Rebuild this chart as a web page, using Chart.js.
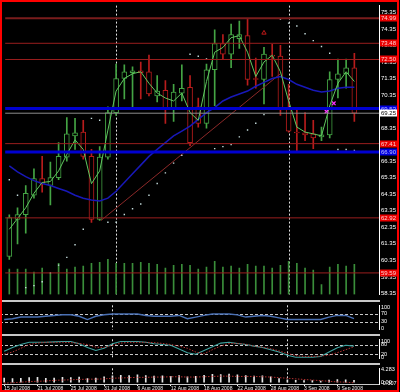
<!DOCTYPE html>
<html><head><meta charset="utf-8">
<script src="https://cdn.jsdelivr.net/npm/chart.js@4.4.0/dist/chart.umd.min.js"></script>
<style>
html,body{margin:0;padding:0;background:#000;}
#wrap{position:relative;width:400px;height:392px;background:#000;overflow:hidden;}
#wrap canvas{position:absolute;left:0;}
.sep{position:absolute;left:0;width:380px;height:2px;background:#c8c8c8;}
#frame{position:absolute;left:0;top:0;width:399px;height:392px;box-sizing:border-box;border:2px solid #ff0000;pointer-events:none;}
</style></head><body>
<div id="wrap">
<canvas id="cMain" width="398" height="300" style="top:0px"></canvas>
<canvas id="cRsi" width="398" height="35" style="top:300px"></canvas>
<canvas id="cSto" width="398" height="30" style="top:334px"></canvas>
<canvas id="cOsc" width="398" height="28" style="top:363px"></canvas>
<div class="sep" style="top:300px"></div>
<div class="sep" style="top:334px"></div>
<div class="sep" style="top:363px"></div>
<div id="frame"></div>
</div>
<script>
// ---------------- DATA ----------------
const opens  = [60.59,62.82,63.12,64.29,65.29,64.88,65.35,66.59,67.88,68.11,66.64,62.82,66.59,69.29,71.35,71.70,71.82,71.76,70.29,70.64,69.53,70.47,70.82,69.64,68.64,71.88,73.47,72.82,73.76,73.94,71.35,71.29,72.76,72.70,69.59,68.11,68.06,68.00,67.82,67.94,71.29,71.64,72.00];
const highs  = [63.10,63.53,64.88,65.88,66.64,66.29,67.47,68.99,68.94,68.82,67.06,67.23,69.64,72.23,72.17,72.06,72.35,72.76,71.53,71.23,71.00,72.17,71.53,70.17,72.23,74.29,74.00,74.64,74.82,74.94,72.59,73.23,73.41,73.35,71.00,69.59,69.29,68.82,68.41,71.76,72.53,72.53,72.88];
const lows   = [60.41,61.35,62.00,64.11,64.47,63.70,65.23,66.35,67.06,66.47,62.65,62.76,66.47,69.11,70.11,69.64,70.11,70.29,69.94,68.64,68.76,69.99,67.29,68.41,68.35,69.70,72.53,72.00,73.17,70.94,70.76,69.82,71.47,69.11,68.11,66.94,67.59,67.11,67.59,67.76,70.17,70.76,68.76];
const closes = [62.94,63.12,64.41,65.29,65.00,65.35,66.64,68.00,68.06,66.64,62.82,66.59,69.29,71.35,71.76,71.82,71.70,70.41,70.59,69.53,70.53,70.76,67.47,68.64,71.88,73.47,72.82,74.00,74.00,71.29,71.29,72.82,72.70,69.53,68.17,68.06,67.94,67.76,67.94,71.29,71.64,72.00,69.25];
const volumes = [26,26,26,23,27,22,32,26,28,29,32,33,36,32,32,32,33,32,31,27,30,31,30,26,28,34,28,29,27,31,29,29,27,30,34,32,27,25,10,28,31,29,31];
const maValues = [66.06,65.70,65.41,65.17,65.00,64.88,64.70,64.53,64.29,64.11,64.00,63.94,64.11,64.53,65.06,65.59,66.11,66.64,67.06,67.47,67.88,68.17,68.47,68.88,69.29,69.59,69.99,70.23,70.41,70.59,70.88,71.12,71.35,71.47,71.29,71.00,70.82,70.64,70.53,70.59,70.76,70.82,70.82];
const fastLine = [62.23,62.88,63.53,64.41,65.06,65.12,65.76,66.76,67.64,67.06,64.99,65.76,68.23,70.59,71.35,71.64,71.76,71.06,70.47,70.17,69.99,70.47,69.29,68.82,71.17,72.94,73.23,73.82,73.94,72.94,71.47,72.35,72.76,71.76,69.99,68.41,68.11,68.00,67.88,69.70,71.06,71.76,71.17];
const sarValues = [65.23,64.29,58.70,58.82,59.06,59.59,60.06,60.53,61.29,62.23,68.94,68.82,62.65,62.65,63.12,63.47,63.76,64.29,65.00,65.64,66.23,66.70,72.82,72.70,72.53,67.11,67.23,67.35,67.82,68.23,68.64,69.17,69.59,74.94,74.70,74.53,74.06,73.64,73.29,72.88,67.06,67.06,67.00];
const trendX = [11.16, 33.0];
const trendY = [62.76, 71.64];
const fractalX = [31], fractalY = [74.11];
const pinkX = [38.6, 39.5], pinkY = [69.35, 69.85];
const rsiValues = [42,46,54,54,54,58,62,65,65,58,42,58,65,69,69,69,69,62,58,58,58,62,46,54,62,69,69,69,65,54,58,62,58,50,42,42,42,42,42,54,62,62,46];
const stochMain = [38,62,81,95,95,95,98,100,100,86,62,43,57,86,100,100,100,95,86,81,76,52,29,19,43,67,90,95,88,81,71,62,48,33,12,0,0,0,5,33,60,76,71];
const stochSignal = [19,33,57,81,90,95,95,95,93,88,81,64,62,76,90,95,95,95,93,88,81,71,57,33,21,48,71,88,88,83,71,64,55,40,24,10,5,5,7,14,29,48,67];
const oscHist = [1.4,1.2,1.3,1.5,1.6,1.3,1.4,1.6,1.5,1.7,1.2,1.4,1.8,2.1,2.3,2.2,2.4,2.2,2.0,2.1,1.9,2.2,1.8,1.9,2.3,2.6,2.5,2.7,2.4,2.2,2.0,2.1,1.8,1.2,0.8,0.6,0.5,0.5,0.4,0.7,0.9,0.8,0.6];
const oscSignal = [-0.3,-0.2,0.0,0.2,0.3,0.4,0.6,0.7,0.8,0.9,1.0,1.0,1.1,1.3,1.4,1.5,1.6,1.6,1.7,1.7,1.8,1.8,1.7,1.7,1.8,1.9,2.0,2.0,1.9,1.9,1.9,1.8,1.7,1.5,1.3,1.1,0.9,0.7,0.5,0.3,0.1,0.0,-0.2];
const priceTicks = [58.35,59.35,60.35,61.35,62.35,63.35,64.35,65.35,66.35,67.35,68.35,69.35,70.35,71.35,72.35,73.35,74.35,75.35];
const redLevels = [74.99,73.48,72.50,67.41,62.92,59.59];
const blueLevels = [69.53,66.90];
const bidPrice = 69.25;
const rsiTicks = [0,30,70,100], rsiLevels = [30,70];
const stoTicks = [0,20,80,100], stoLevels = [20,80];
const oscTicks = [-0.307,0,4.283], oscTickText = ['-0.307','0.00','4.283'];
const separatorIdx = [13,34];
const dateTickIdx = [0,4,8,12,16,20,24,28,32,36,40];
const dateLabels = ['15 Jul 2008','21 Jul 2008','25 Jul 2008','31 Jul 2008','6 Aug 2008','12 Aug 2008','18 Aug 2008','22 Aug 2008','28 Aug 2008','3 Sep 2008','9 Sep 2008'];

// ---------------- STYLE ----------------
const FONT = 'Liberation Sans';
const upColor = '#44a444', dnColor = '#b81c1c';
const idx = opens.map((_, i) => i);
const candleCol = idx.map(i => closes[i] >= opens[i] ? upColor : dnColor);
const redWidths = [2,1,1,1,1,1];

function xAxis(display){
  return {type:'linear', min:-0.5, max:45, offset:false, display:display, grid:{display:false}};
}
function yAxis(min,max,ticks,fmt,size){
  return {type:'linear', position:'right', min:min, max:max,
    grid:{display:false, drawTicks:false},
    border:{display:true, color:'#ffffff', width:1},
    ticks:{color:'#ffffff', font:{family:FONT, size:size||6}, padding:2, autoSkip:false, callback:fmt},
    afterBuildTicks: ax => { ax.ticks = ticks.map(v => ({value:v})); },
    afterFit: ax => { ax.width = 19; }
  };
}
const vsep = {
  id:'vsep',
  beforeDatasetsDraw(chart){
    const {ctx, chartArea:a, scales:{x}} = chart;
    ctx.save(); ctx.strokeStyle='#e0e0e0'; ctx.lineWidth=1; ctx.setLineDash([2,2]);
    separatorIdx.forEach(v => { const px = Math.round(x.getPixelForValue(v)) + 0.5;
      ctx.beginPath(); ctx.moveTo(px, a.top); ctx.lineTo(px, a.bottom); ctx.stroke(); });
    ctx.restore();
  }
};
function dashLevels(levels){
  return {
    id:'dl',
    beforeDatasetsDraw(chart){
      const {ctx, chartArea:a, scales:{y}} = chart;
      ctx.save(); ctx.strokeStyle='#c8c8c8'; ctx.lineWidth=1; ctx.setLineDash([3,2]);
      levels.forEach(v => { const py = Math.round(y.getPixelForValue(v)) + 0.5;
        ctx.beginPath(); ctx.moveTo(a.left, py); ctx.lineTo(a.right, py); ctx.stroke(); });
      ctx.restore();
    }
  };
}
const levelPlugin = {
  id:'levels',
  afterDatasetsDraw(chart){
    const {ctx, chartArea:a, scales:{y}} = chart;
    ctx.save();
    const line = (v, col, w) => { const py = y.getPixelForValue(v);
      ctx.strokeStyle = col; ctx.lineWidth = w; ctx.beginPath(); ctx.moveTo(a.left, py); ctx.lineTo(a.right, py); ctx.stroke(); };
    redLevels.forEach((v,k) => line(v, k===0 ? '#7a1c1c' : '#9a1e1e', redWidths[k]));
    line(bidPrice, '#8c8c8c', 1);
    blueLevels.forEach(v => line(v, '#0000d0', 3));
    ctx.restore();
  },
  afterDraw(chart){
    const {ctx, chartArea:a, scales:{y}} = chart;
    ctx.save();
    ctx.font = '6px "' + FONT + '"'; ctx.textBaseline = 'middle'; ctx.textAlign = 'left';
    const box = (v, bg, fg) => { const py = Math.round(y.getPixelForValue(v));
      ctx.fillStyle = bg; ctx.fillRect(a.right + 1, py - 3.5, 17, 7);
      ctx.fillStyle = fg; ctx.fillText(v.toFixed(2), a.right + 2, py + 0.5); };
    redLevels.forEach(v => box(v, '#e80000', '#ffd0d0'));
    blueLevels.forEach(v => box(v, '#0000e0', '#c0c0ff'));
    box(bidPrice, '#ffffff', '#000000');
    ctx.restore();
  }
};
const common = {responsive:false, animation:false, devicePixelRatio:1, events:[],
  plugins:{legend:{display:false}, tooltip:{enabled:false}}};

// ---------------- MAIN ----------------
new Chart(document.getElementById('cMain'), {
  type:'bar',
  data:{datasets:[
    {type:'bar', data: idx.map(i => ({x:i, y:volumes[i]})), yAxisID:'vol', backgroundColor:'#3a8e3a', barThickness:1, grouped:false, order:10},
    {type:'bar', data: idx.map(i => ({x:i, y:[lows[i], highs[i]]})), backgroundColor:candleCol, barThickness:1, grouped:false, order:8},
    {type:'bar', data: idx.map(i => ({x:i, y:[opens[i], closes[i]]})), backgroundColor:'#000000', borderColor:candleCol, borderWidth:1, borderSkipped:false, barThickness:5, grouped:false, order:7},
    {type:'line', data: trendX.map((v,k) => ({x:v, y:trendY[k]})), borderColor:'#8c2828', borderWidth:1, pointRadius:0, order:6},
    {type:'line', data: idx.map(i => ({x:i, y:maValues[i]})), borderColor:'#1818b8', borderWidth:1.5, pointRadius:0, order:5},
    {type:'line', data: idx.map(i => ({x:i, y:fastLine[i]})), borderColor:'#60c860', borderWidth:1, pointRadius:0, order:4},
    {type:'line', data: idx.map(i => ({x:i, y:sarValues[i]})), showLine:false, pointStyle:'rect', pointRadius:1, backgroundColor:'#c4dcdc', borderColor:'#c4dcdc', borderWidth:0, order:3},
    {type:'line', data: fractalX.map((v,k) => ({x:v, y:fractalY[k]})), showLine:false, pointStyle:'triangle', pointRadius:2.5, backgroundColor:'rgba(0,0,0,0)', borderColor:'#c01818', borderWidth:1, order:2},
    {type:'line', data: pinkX.map((v,k) => ({x:v, y:pinkY[k]})), showLine:false, pointStyle:'crossRot', pointRadius:2.5, borderColor:'#ff30ff', borderWidth:1.2, order:1}
  ]},
  options:Object.assign({}, common, {
    layout:{padding:{top:2, bottom:1, left:0, right:0}},
    scales:{ x: xAxis(false), y: yAxis(58.29, 75.76, priceTicks, v => v.toFixed(2)), vol:{type:'linear', display:false, min:0, max:297} }
  }),
  plugins:[vsep, levelPlugin]
});

// ---------------- RSI ----------------
new Chart(document.getElementById('cRsi'), {
  type:'line',
  data:{datasets:[
    {data: idx.map(i => ({x:i, y:rsiValues[i]})), borderColor:'#4a70b4', borderWidth:1.4, pointRadius:0}
  ]},
  options:Object.assign({}, common, {
    layout:{padding:{top:2, bottom:2, left:0, right:0}},
    scales:{ x: xAxis(false), y: yAxis(-7.7, 111.5, rsiTicks, v => String(v), 5.5) }
  }),
  plugins:[vsep, dashLevels(rsiLevels)]
});

// ---------------- STOCH ----------------
new Chart(document.getElementById('cSto'), {
  type:'line',
  data:{datasets:[
    {data: idx.map(i => ({x:i, y:stochSignal[i]})), borderColor:'#b83434', borderWidth:1, borderDash:[1.5,1.5], pointRadius:0},
    {data: idx.map(i => ({x:i, y:stochMain[i]})), borderColor:'#3ea4a0', borderWidth:1.1, pointRadius:0}
  ]},
  options:Object.assign({}, common, {
    layout:{padding:{top:2, bottom:2, left:0, right:0}},
    scales:{ x: xAxis(false), y: yAxis(-9.5, 114.3, stoTicks, v => String(v), 5.5) }
  }),
  plugins:[vsep, dashLevels(stoLevels)]
});

// ---------------- OSC + DATES ----------------
new Chart(document.getElementById('cOsc'), {
  type:'bar',
  data:{datasets:[
    {type:'bar', data: idx.map(i => ({x:i, y:oscHist[i]})), backgroundColor:'#e6e6e6', barThickness:1, grouped:false, order:2},
    {type:'line', data: idx.map(i => ({x:i, y:oscSignal[i]})), borderColor:'#b03030', borderWidth:1, borderDash:[1.5,1.5], pointRadius:0, order:1}
  ]},
  options:Object.assign({}, common, {
    layout:{padding:{top:3, bottom:0, left:0, right:0}},
    scales:{
      x: {type:'linear', min:-0.5, max:45, offset:false, position:'bottom', display:true,
        grid:{display:true, drawOnChartArea:false, drawTicks:true, tickLength:2, color:'#ffffff', offset:false},
        border:{display:true, color:'#c8c8c8', width:1},
        ticks:{color:'#e8e8e8', font:{family:FONT, size:5}, padding:0, autoSkip:false, maxRotation:0, minRotation:0, align:'start',
          callback:(v, k) => dateLabels[k]},
        afterBuildTicks: ax => { ax.ticks = dateTickIdx.map(v => ({value:v})); },
        afterFit: ax => { ax.height = 7; }
      },
      y: yAxis(-0.6, 4.6, oscTicks, (v, k) => oscTickText[k], 5.5)
    }
  }),
  plugins:[vsep]
});
</script>
</body></html>
